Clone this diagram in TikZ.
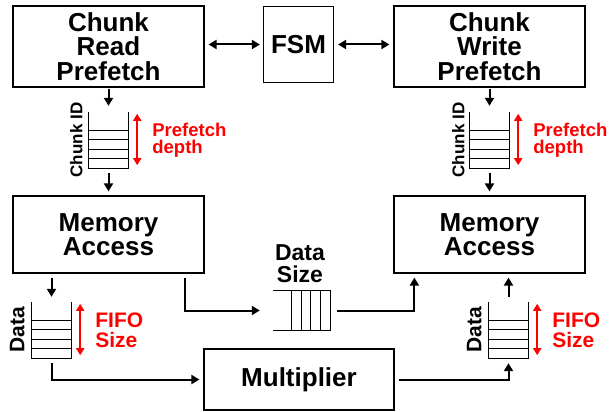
\documentclass[tikz,border=0pt]{standalone}
\usepackage{fontspec}
\setmainfont{Liberation Sans}
\usetikzlibrary{arrows.meta,positioning,calc}

\tikzset{
  block/.style={draw,line width=1.2pt,minimum width=191pt,minimum height=77pt,
    align=center,inner sep=0pt,font=\bfseries\fontsize{26}{24.5}\selectfont},
  fifo/.style={minimum width=39pt,minimum height=56pt,inner sep=0pt},
  fifoline/.style={line width=1.1pt},
  flow/.style={line width=2pt,-{Triangle[length=8pt,width=9pt]}},
  dflow/.style={line width=2pt,{Triangle[length=8pt,width=9pt]}-{Triangle[length=8pt,width=9pt]}},
  depth/.style={red,line width=2pt,{Triangle[length=7pt,width=8pt]}-{Triangle[length=7pt,width=8pt]}},
  redlbl/.style={red,anchor=west,align=left,inner sep=0pt,font=\bfseries\fontsize{18.5}{17.5}\selectfont},
  sidelbl/.style={rotate=90,anchor=south,inner sep=0pt,font=\bfseries\fontsize{#1}{#1}\selectfont},
}

\begin{document}
\begin{tikzpicture}[x=1pt,y=-1pt]

  \useasboundingbox (0,0) rectangle (611,412);

  % control blocks
  \node[block,minimum height=81pt] (crp) at (108.5,46.5) {Chunk\\Read\\Prefetch};
  \node[block,minimum width=70pt,minimum height=76pt] (fsm) at (298.5,44.5) {FSM};
  \node[block,minimum height=81pt] (cwp) at (489.5,46.5) {Chunk\\Write\\Prefetch};

  % memory blocks
  \node[block] (maR) at (108.5,234.5) {Memory\\Access};
  \node[block] (maW) at (489.5,234.5) {Memory\\Access};
  \node[block,minimum width=190pt,minimum height=61pt] (mult) at (299,379.5) {Multiplier};

  % vertical fifos
  \foreach \n/\x/\y in {cidR/108.5/140, cidW/489.5/140, datR/51.5/330, datW/508.5/330} {
    \node[fifo] (\n) at (\x,\y) {};
    \draw[fifoline] (\n.north west) -- (\n.south west) -- (\n.south east) -- (\n.north east);
    \foreach \k in {1,...,4}
      \draw[fifoline] ($(\n.south west)+(0,-\k*9.5)$) -- ($(\n.south east)+(0,-\k*9.5)$);
    \draw[depth] ($(\n.north east)+(9,2)$) -- ($(\n.south east)+(9,-3)$);
  }

  % fifo labels
  \node[redlbl] at ($(cidR.east)+(24,0)$) {Prefetch\\depth};
  \node[redlbl] at ($(cidW.east)+(24,0)$) {Prefetch\\depth};
  \node[redlbl,font=\bfseries\fontsize{21}{20}\selectfont] at ($(datR.east)+(24,0)$) {FIFO\\Size};
  \node[redlbl,font=\bfseries\fontsize{21}{20}\selectfont] at ($(datW.east)+(24,0)$) {FIFO\\Size};
  \node[sidelbl=17] at ($(cidR.west)+(-6,0)$) {Chunk ID};
  \node[sidelbl=17] at ($(cidW.west)+(-5,0)$) {Chunk ID};
  \node[sidelbl=21] at ($(datR.west)+(-7,0)$) {Data};
  \node[sidelbl=21] at ($(datW.west)+(-7,0)$) {Data};

  % data size fifo
  \node[minimum width=57pt,minimum height=39pt,inner sep=0pt] (dsz) at (301.5,310.5) {};
  \draw[fifoline] (dsz.north west) -- (dsz.north east) -- (dsz.south east) -- (dsz.south west);
  \foreach \k in {1,...,4}
    \draw[fifoline] ($(dsz.north east)+(-\k*9.7,0)$) -- ($(dsz.south east)+(-\k*9.7,0)$);
  \node[above=8pt of dsz,align=center,inner sep=0pt,xshift=-1.5pt,
    font=\bfseries\fontsize{23}{22}\selectfont] (dszlbl) {Data\\Size};

  % fsm links
  \draw[dflow,shorten <=4pt,shorten >=3pt] (fsm.west -| crp.east) -- (fsm.west);
  \draw[dflow,shorten <=4pt,shorten >=4pt] (fsm.east) -- (fsm.east -| cwp.west);

  % prefetch path
  \draw[flow,shorten <=1pt,shorten >=6pt] (crp.south) -- (cidR.north);
  \draw[flow,shorten <=5pt,shorten >=4pt] (cidR.south) -- (maR.north);
  \draw[flow,shorten <=1pt,shorten >=6pt] (cwp.south) -- (cidW.north);
  \draw[flow,shorten <=5pt,shorten >=4pt] (cidW.south) -- (maW.north);

  % data path
  \coordinate (szout) at ($(maR.south east)+(-20,0)$);
  \coordinate (szin) at ($(maW.south west)+(21,0)$);
  \draw[flow,shorten <=4pt,shorten >=5pt] (datR.north |- maR.south) -- (datR.north);
  \draw[flow,shorten <=5pt,shorten >=4pt] (datR.south) |- (mult.west);
  \draw[flow,shorten <=4pt,shorten >=13pt] (szout) |- (dsz.west);
  \draw[flow,shorten <=7pt,shorten >=4pt] (dsz.east) -| (szin);
  \draw[flow,shorten <=4pt,shorten >=5pt] (mult.east) -| (datW.south);
  \draw[flow,shorten <=5pt,shorten >=4pt] (datW.north) -- (datW.north |- maW.south);

\end{tikzpicture}
\end{document}
